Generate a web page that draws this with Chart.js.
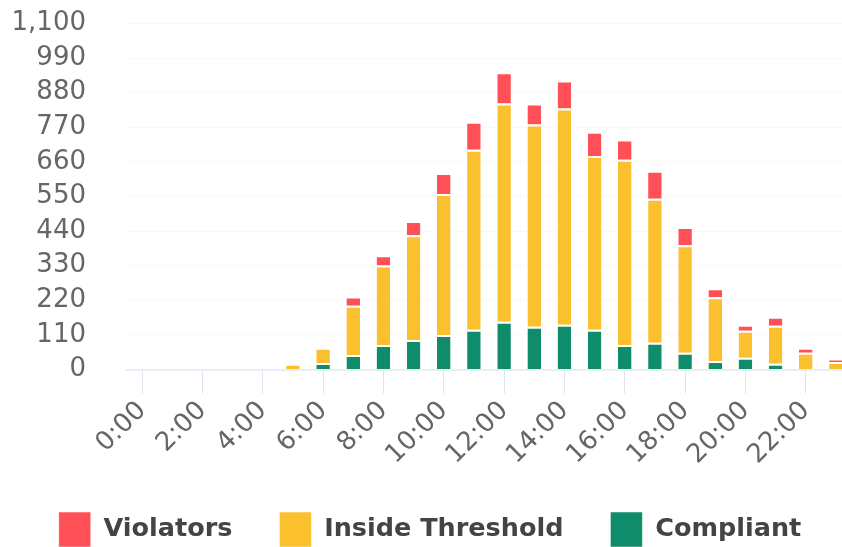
<!DOCTYPE html>
<html>
<head>
<meta charset="utf-8">
<script src="https://cdn.jsdelivr.net/npm/chart.js@4/dist/chart.umd.min.js"></script>
<style>
  html, body { margin: 0; padding: 0; background: #fff; overflow: hidden; }
  #wrap { width: 860px; height: 557px; }
</style>
</head>
<body>
<div id="wrap"><canvas id="chart"></canvas></div>
<script>
const hours = ['0:00','1:00','2:00','3:00','4:00','5:00','6:00','7:00','8:00','9:00','10:00','11:00',
               '12:00','13:00','14:00','15:00','16:00','17:00','18:00','19:00','20:00','21:00','22:00','23:00']

const compliant = [0,0,0,0,0,0,21,46,78,94,110,126,152,136,142,126,78,85,53,27,37,18,0,0]
const insideThreshold = [0,0,0,0,0,18,48,157,253,333,448,573,694,643,688,553,589,458,342,203,86,121,53,24]
const violators = [0,0,0,0,0,0,0,29,32,45,67,89,99,67,89,77,64,89,58,28,19,29,16,10]

const yMax = 1100
const yStep = 110

window.addEventListener('DOMContentLoaded', init)

function init() {
    const font = 'DejaVu Sans'

    const dataset = (label, values, color) => ({
        label: label,
        data: values,
        backgroundColor: color,
        borderColor: '#ffffff',
        borderWidth: { top: 2, left: 0, right: 0, bottom: 0 },
        borderSkipped: false,
        barPercentage: 0.5,
        categoryPercentage: 0.9
    })

    new Chart(document.getElementById('chart'), {
        type: 'bar',
        data: {
            labels: hours,
            datasets: [
                dataset('Compliant', compliant, '#0f8c6a'),
                dataset('Inside Threshold', insideThreshold, '#fbc02d'),
                dataset('Violators', violators, '#ff4f57')
            ]
        },
        options: {
            responsive: true,
            maintainAspectRatio: false,
            animation: false,
            layout: { padding: 0 },
            plugins: {
                tooltip: { enabled: false },
                legend: {
                    position: 'bottom',
                    reverse: true,
                    labels: {
                        font: { family: font, size: 25.5, weight: 'bold' },
                        color: '#444',
                        boxWidth: 32,
                        boxHeight: 35,
                        padding: 47
                    }
                }
            },
            scales: {
                x: {
                    stacked: true,
                    // fixed axis size so the plot sits where the original does
                    afterFit: (scale) => {
                        scale.height = 95.5
                        scale.paddingLeft = 0
                        scale.paddingRight = 9
                    },
                    grid: {
                        offset: false,
                        drawOnChartArea: false,
                        color: '#dde4ee',
                        tickLength: 24
                    },
                    border: { display: true, color: '#e9eef4', width: 2 },
                    ticks: {
                        autoSkip: false,
                        maxRotation: 45,
                        minRotation: 45,
                        padding: 2,
                        color: '#666',
                        font: { family: font, size: 26 },
                        callback: function (value, index) {
                            return index % 2 === 0 ? hours[index] : null
                        }
                    }
                },
                y: {
                    stacked: true,
                    min: 0,
                    max: yMax,
                    afterFit: (scale) => {
                        scale.width = 127
                        scale.paddingTop = 23.5
                        scale.paddingBottom = 0
                    },
                    grid: { color: 'rgba(0,0,0,0.025)', drawTicks: false },
                    border: { display: false },
                    ticks: {
                        autoSkip: false,
                        stepSize: yStep,
                        padding: 41,
                        color: '#666',
                        font: { family: font, size: 26 }
                    }
                }
            }
        }
    })
}
</script>
</body>
</html>
